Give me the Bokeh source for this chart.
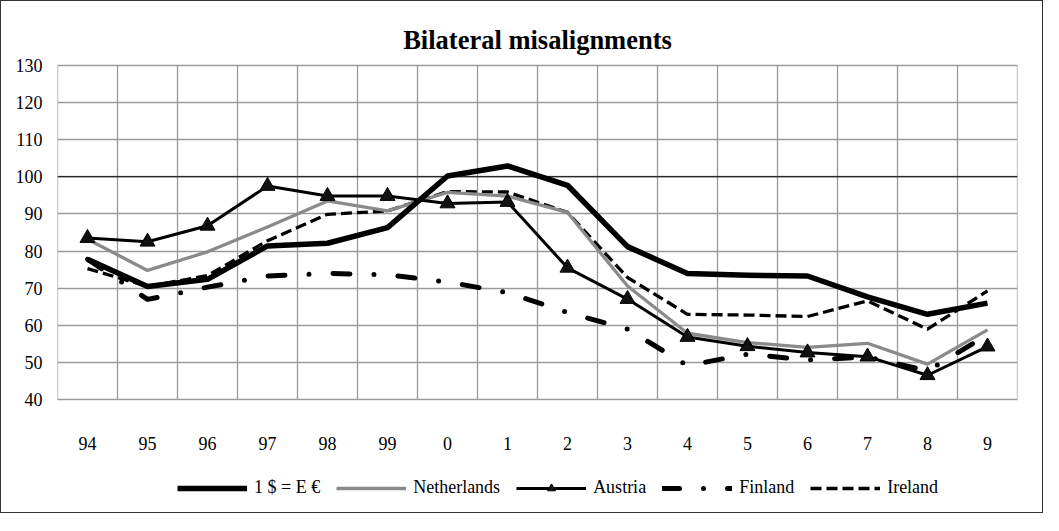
from bokeh.plotting import figure
from bokeh.models import Range1d, FixedTicker, Legend, LegendItem, Span
from bokeh.embed import file_html
from bokeh.resources import INLINE

# ---- data ----
categories = ["94", "95", "96", "97", "98", "99", "0", "1", "2", "3", "4", "5", "6", "7", "8", "9"]
usd_eur = [77.8, 70.5, 72.4, 81.4, 82.1, 86.3, 100.2, 102.9, 97.7, 81.2, 74.0, 73.5, 73.3, 67.7, 63.0, 66.0]
netherlands = [83.2, 74.8, 79.8, 86.5, 93.5, 90.8, 95.8, 94.8, 90.4, 70.6, 57.9, 55.4, 54.1, 55.2, 49.6, 58.8]
austria = [83.5, 82.5, 86.8, 97.5, 94.8, 94.8, 92.8, 93.2, 75.5, 67.1, 56.9, 54.4, 52.7, 51.6, 46.6, 54.3]
finland = [77.8, 67.0, 70.3, 73.3, 74.0, 73.6, 71.7, 68.8, 63.5, 59.0, 49.2, 52.3, 50.7, 51.5, 47.8, 57.5]
ireland = [75.3, 70.5, 73.4, 82.8, 89.9, 90.8, 96.0, 95.9, 90.4, 72.9, 63.0, 62.8, 62.4, 66.6, 59.0, 69.3]
y_ticks = [40, 50, 60, 70, 80, 90, 100, 110, 120, 130]
reference_level = 100

n = len(categories)
x = list(range(n))
boundaries = [i - 0.5 for i in range(n + 1)]
FONT = "Liberation Serif"
GRID = "#9a9a9a"

# layout (pixels): gridded area 960 x 334.6
PX_PER_UNIT = 334.6 / (y_ticks[-1] - y_ticks[0])
TOP_PAD = 5.7      # px between frame top and the 130 line
BOTTOM_PAD = 112.7 # px between the 40 line and frame bottom (room for labels + legend)
y_lo = y_ticks[0] - BOTTOM_PAD / PX_PER_UNIT
y_hi = y_ticks[-1] + TOP_PAD / PX_PER_UNIT

p = figure(frame_width=960, frame_height=453, output_backend="svg", toolbar_location=None,
           x_range=Range1d(-0.5, n - 0.5),
           y_range=Range1d(y_lo, y_hi),
           min_border_left=56, min_border_right=25, min_border_top=58, min_border_bottom=0,
           title="Bilateral misalignments")
p.styles = {"border": "1px solid #333333"}
p.background_fill_color = "white"
p.border_fill_color = "white"
p.outline_line_color = None

p.title.align = "center"
p.title.text_font = FONT
p.title.text_font_size = "26.5px"
p.title.text_font_style = "bold"
p.title.text_color = "black"

# horizontal grid limited to the category span; vertical category separators as segments
p.ygrid.ticker = FixedTicker(ticks=y_ticks)
p.ygrid.bounds = (-0.5, n - 0.5)
p.ygrid.grid_line_color = GRID
p.ygrid.grid_line_width = 1.3
p.xgrid.grid_line_color = None
p.segment(x0=boundaries, y0=[y_ticks[0]] * len(boundaries), x1=boundaries, y1=[y_ticks[-1]] * len(boundaries),
          line_color=GRID, line_width=1.3, level="underlay")

# axes
p.yaxis.ticker = FixedTicker(ticks=y_ticks)
p.xaxis.ticker = FixedTicker(ticks=x)
p.xaxis.major_label_overrides = {i: c for i, c in enumerate(categories)}
p.xaxis.fixed_location = y_ticks[0]
for ax in (p.xaxis, p.yaxis):
    ax.axis_line_color = None
    ax.major_tick_line_color = None
    ax.minor_tick_line_color = None
    ax.major_label_text_font = FONT
    ax.major_label_text_font_size = "18px"
    ax.major_label_text_color = "black"
p.yaxis.major_label_standoff = 9
p.xaxis.major_label_standoff = 31

span = Span(location=reference_level, dimension="width", line_color="black", line_width=1.2, level="underlay")
p.add_layout(span)

r_ire = p.line(x, ireland, line_color="black", line_width=3.3, line_dash="11 5", line_join="round")
r_fin = p.line(x, finland, line_color="black", line_width=5, line_dash="17 24 0 24", line_cap="round", line_join="round")
r_ned = p.line(x, netherlands, line_color="#8a8a8a", line_width=3.3, line_join="round")
r_aut = p.line(x, austria, line_color="black", line_width=3, line_join="round")
r_aut_m = p.scatter(x, austria, marker="triangle", size=15, fill_color="#111111", line_color="black")
r_usd = p.line(x, usd_eur, line_color="black", line_width=5.5, line_join="round")

legend = Legend(items=[
    LegendItem(label="1 $ = E €", renderers=[r_usd]),
    LegendItem(label="Netherlands", renderers=[r_ned]),
    LegendItem(label="Austria", renderers=[r_aut, r_aut_m]),
    LegendItem(label="Finland", renderers=[r_fin]),
    LegendItem(label="Ireland", renderers=[r_ire]),
], orientation="horizontal", location=(120, 14))
legend.label_text_font = FONT
legend.label_text_font_size = "18px"
legend.label_text_color = "black"
legend.glyph_width = 70
legend.label_standoff = 7
legend.spacing = 16
legend.border_line_color = None
legend.background_fill_alpha = 0
p.add_layout(legend)

open("out.html", "w").write(file_html(p, INLINE))
